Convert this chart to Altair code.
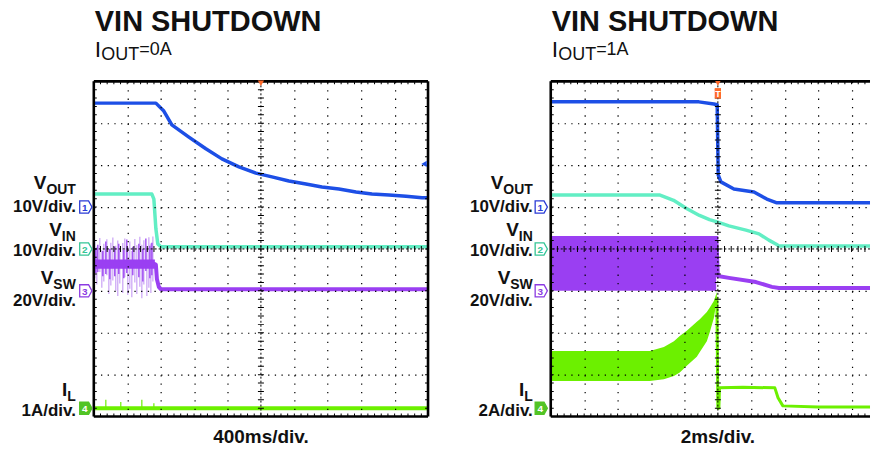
import altair as alt
import pandas as pd

FONT = "Liberation Sans"

# ---------------- channel setup (ground markers in divisions) ----------------
CH_OFFSET = [1.0, 0.0, -1.0, -3.8]
CH_NUM = ["1", "2", "3", "4"]
CH_MAIN = ["V", "V", "V", "I"]
CH_SUB = ["OUT", "IN", "SW", "L"]
UNITS_L = ["10V/div.", "10V/div.", "20V/div.", "1A/div."]
UNITS_R = ["10V/div.", "10V/div.", "20V/div.", "2A/div."]
VDIV_L = [10.0, 10.0, 20.0, 1.0]
VDIV_R = [10.0, 10.0, 20.0, 2.0]
# label baselines (divisions) for name and unit text
LBL_NAME_Y = [1.43, 0.31, -0.835, -3.51]
LBL_UNIT_Y = [0.883, -0.167, -1.36, -3.986]

# ---------------- left capture: 400 ms/div, IOUT = 0 A ----------------
L_TDIV = 400.0
L_VOUT_T = [-2000, -1257, -1162, -1066, -862, -659, -467, -263, -60, 132, 335, 539, 731, 934, 1138, 1329, 1533, 1737, 1928, 2000]
L_VOUT_V = [24.8, 24.8, 22.9, 19.6, 16.7, 13.9, 11.5, 9.6, 8.1, 7.2, 6.2, 5.5, 4.8, 4.3, 3.6, 3.1, 2.9, 2.6, 2.2, 2.2]
L_VIN_T = [-2000, -1305, -1281, -1257, -1234, -1198, 2000]
L_VIN_V = [13.1, 13.1, 11.9, 4.8, 1.2, 0.5, 0.5]
L_VSW_T = [-2000, -1269, -1257, -1245, -1222, -1198, 2000]
L_VSW_V = [12.8, 12.8, 12.4, 5.7, 1.9, 0.8, 0.8]
L_VSWB_T = [-2000, -1269]
L_VSWB_HI = [15.0, 15.0]
L_VSWB_LO = [10.6, 10.6]
# switching bursts before shutdown (light = sparse excursions, dark = dense ones)
L_SPK_T = [-1988, -1964, -1928, -1904, -1880, -1844, -1820, -1796, -1772, -1737, -1713, -1689, -1653,
           -1629, -1593, -1569, -1545, -1509, -1485, -1449, -1425, -1401, -1365, -1341, -1317, -1293]
L_SPK_HI = [23.8, 21.0, 25.2, 19.5, 22.5, 24.6, 20.5, 23.0, 25.5, 21.5, 24.0, 19.8, 22.8,
            25.0, 20.8, 23.5, 19.0, 24.8, 21.8, 25.8, 22.0, 24.2, 20.2, 25.6, 22.6, 26.0]
L_SPK_LO = [6.0, 3.0, 9.0, 1.5, 4.5, 7.5, -1.5, 2.5, 5.0, 0.0, -2.5, 3.5, -1.0,
            6.5, -2.0, 1.0, -3.0, 4.0, -1.5, 2.0, -3.5, 3.0, -2.5, 1.5, -1.0, 4.5]
L_DSPK_T = [-1976, -1952, -1892, -1856, -1808, -1749, -1701, -1641, -1605, -1533, -1461, -1413, -1377, -1329, -1305]
L_DSPK_HI = [20.5, 22.0, 19.0, 23.5, 20.0, 21.0, 22.5, 19.5, 24.5, 21.0, 22.5, 20.0, 25.0, 21.5, 23.0]
L_DSPK_LO = [8.5, 9.0, 7.0, 8.0, 5.5, 7.0, 8.0, 6.0, 8.5, 7.5, 6.5, 4.5, 9.5, 6.0, 7.5]
L_IL_T = [-2000, 2000]
L_IL_A = [0.0, 0.0]
L_ILSPK_T = [-1856, -1677, -1425, -1281]
L_ILSPK_HI = [0.2, 0.15, 0.2, 0.12]
L_TRIG_LEVEL = 10.3  # V on ch1

# ---------------- right capture: 2 ms/div, IOUT = 1 A ----------------
R_TDIV = 2.0
R_VOUT_T = [-10, -1.14, -0.24, -0.04, 0.02, 0.18, 0.96, 2.16, 2.93, 3.53, 10]
R_VOUT_V = [25.1, 25.1, 24.6, 24.4, 7.7, 6.0, 4.3, 3.6, 1.9, 1.0, 1.0]
R_VIN_T = [-10, -3.5, -2.65, -1.9, -1.1, -0.5, 0.0, 0.66, 1.68, 2.46, 3.05, 3.47, 3.65, 10]
R_VIN_V = [12.9, 12.9, 11.6, 9.7, 8.0, 7.0, 6.4, 5.5, 4.5, 3.6, 2.1, 1.2, 0.7, 0.7]
R_VSWB_T = [-10, -0.1]
R_VSWB_HI = [26.2, 26.2]
R_VSWB_LO = [0.0, 0.0]
R_VSW_T = [-0.1, 0.0, 0.66, 2.28, 3.23, 3.65, 10]
R_VSW_V = [26.2, 7.1, 6.2, 4.2, 1.9, 1.4, 1.4]
R_ILB_T = [-10, -4.07, -3.23, -2.63, -2.28, -1.86, -1.26, -1.08, -0.66, -0.48, -0.24, -0.06]
R_ILB_HI = [2.73, 2.73, 2.92, 3.2, 3.45, 3.7, 4.12, 4.25, 4.59, 4.8, 5.12, 5.55]
R_ILB_LO = [1.30, 1.30, 1.38, 1.54, 1.7, 2.02, 2.45, 2.68, 3.2, 3.64, 4.3, 5.2]
R_IL_T = [-0.06, 0.0, 0.06, 0.1, 1.5, 3.41, 3.6, 3.89, 6.0, 10]
R_IL_A = [5.3, 0.0, 0.0, 0.97, 1.0, 0.97, 0.5, 0.11, 0.06, 0.06]

C_VOUT = "#1d4fe6"
C_VIN = "#62eec4"
C_VSW = "#9a3ff2"
C_VSW_LIGHT = "#c9a2f5"
C_IL = "#6cf000"
C_TRIG = "#ff6a2a"
MK_STROKE = ["#2a3bd6", "#34c596", "#8b3ae2", "#52c425"]
MK_FILL = ["#ffffff", "#ffffff", "#ffffff", "#52c425"]
MK_TEXT = ["#2a3bd6", "#34c596", "#8b3ae2", "#ffffff"]

DIV_PX = 33.5
H = 336
# Arial/Liberation Sans Bold advance widths (em) for subscript layout
ADV = {"O": 0.778, "U": 0.722, "T": 0.611, "I": 0.278, "N": 0.722, "S": 0.667, "W": 0.944, "L": 0.611}


def make_enc(xmax):
    def enc_x(field="x"):
        return alt.X(f"{field}:Q", scale=alt.Scale(domain=[-5, xmax], nice=False, zero=False),
                     axis=alt.Axis(values=[-4, -3, -2, -1, 1, 2, 3, 4], labels=False,
                                   ticks=False, domain=False, grid=True, gridColor="#000",
                                   gridWidth=1.2, gridDash=[1.3, 7.1], title=None, zindex=1,
                                   minExtent=0, maxExtent=0))

    def enc_y(field="y"):
        return alt.Y(f"{field}:Q", scale=alt.Scale(domain=[-4, 4], nice=False, zero=False),
                     axis=alt.Axis(values=[-3, -2, -1, 1, 2, 3], labels=False, ticks=False,
                                   domain=False, grid=True, gridColor="#000", gridWidth=1.2,
                                   gridDash=[1.3, 5.4], title=None, zindex=1,
                                   minExtent=86, maxExtent=86))
    return enc_x, enc_y


def build_panel(xmax, traces_spec, units, load, time_label, marker_off, trig_kind,
                trig_level=None, right_border=True):
    enc_x, enc_y = make_enc(xmax)

    def trace(t, v, tdiv, vdiv, off, color, width):
        df = pd.DataFrame({"x": [a / tdiv for a in t], "y": [b / vdiv + off for b in v]})
        return alt.Chart(df).mark_line(clip=True, color=color, strokeWidth=width,
                                       strokeJoin="round").encode(x=enc_x(), y=enc_y())

    def band(t, hi, lo, tdiv, vdiv, off, color):
        df = pd.DataFrame({"x": [a / tdiv for a in t], "y": [b / vdiv + off for b in hi],
                           "y2": [b / vdiv + off for b in lo]})
        return alt.Chart(df).mark_area(clip=True, color=color, opacity=1).encode(
            x=enc_x(), y=enc_y(), y2=alt.Y2("y2:Q"))

    def spikes(t, hi, lo, tdiv, vdiv, off, color, width=1):
        df = pd.DataFrame({"x": [a / tdiv for a in t], "y": [b / vdiv + off for b in hi],
                           "y2": [b / vdiv + off for b in lo]})
        return alt.Chart(df).mark_rule(clip=True, color=color, strokeWidth=width).encode(
            x=enc_x(), y=enc_y(), y2=alt.Y2("y2:Q"))

    def text(x, y, s, size, weight="bold", align="left", dx=0, dy=0, color="#111"):
        df = pd.DataFrame({"x": [x], "y": [y], "t": [s]})
        return alt.Chart(df).mark_text(font=FONT, fontSize=size, fontWeight=weight, align=align,
                                       baseline="alphabetic", dx=dx, dy=dy, color=color).encode(
            x=enc_x(), y=enc_y(), text="t:N")

    layers = []
    for kind, args in traces_spec:
        if kind == "line":
            layers.append(trace(*args))
        elif kind == "band":
            layers.append(band(*args))
        else:
            layers.append(spikes(*args))

    # graticule: dashed centre cross, minor ticks on centre lines and edges
    xf = [i / 5 for i in range(-25, 26)]
    yf = [i / 5 for i in range(-20, 21)]
    layers.append(alt.Chart(pd.DataFrame({"x": [0.0]})).mark_rule(
        color="#000", strokeWidth=1, strokeDash=[2, 2]).encode(x=enc_x()))
    layers.append(alt.Chart(pd.DataFrame({"y": [0.0]})).mark_rule(
        color="#000", strokeWidth=1, strokeDash=[2, 2], clip=True).encode(y=enc_y()))
    tick_sets = [
        (xf, [0.0] * len(xf), "vertical"),
        ([0.0] * len(yf), yf, "horizontal"),
        (xf + xf, [4.0] * len(xf) + [-4.0] * len(xf), "vertical"),
        ([-5.0] * len(yf) + [5.0] * len(yf), yf + yf, "horizontal"),
    ]
    for tx, ty, orient in tick_sets:
        layers.append(alt.Chart(pd.DataFrame({"x": tx, "y": ty})).mark_tick(
            orient=orient, size=6, thickness=1, color="#000", opacity=1, clip=True).encode(
            x=enc_x(), y=enc_y()))
    # frame
    fx = [-5.0, 5.0] if right_border else [-5.0]
    layers.append(alt.Chart(pd.DataFrame({"x": fx})).mark_rule(
        color="#000", strokeWidth=2.6).encode(x=enc_x()))
    layers.append(alt.Chart(pd.DataFrame({"y": [4.0, -4.0]})).mark_rule(
        color="#000", strokeWidth=2.6).encode(y=enc_y()))

    # channel ground markers
    mdf = pd.DataFrame({"x": [-5.0] * 4, "y": CH_OFFSET, "n": CH_NUM,
                        "s": MK_STROKE, "f": MK_FILL, "c": MK_TEXT})
    layers.append(alt.Chart(mdf).mark_point(
        shape="M-1,-1 L0.45,-1 L1,0 L0.45,1 L-1,1 Z", size=150, filled=True, strokeWidth=1.3,
        xOffset=marker_off, opacity=1).encode(
        x=enc_x(), y=enc_y(), fill=alt.Fill("f:N", scale=None), stroke=alt.Stroke("s:N", scale=None)))
    layers.append(alt.Chart(mdf).mark_text(
        font=FONT, fontSize=10, fontWeight="bold", baseline="middle", align="center",
        dx=marker_off - 1, dy=1).encode(
        x=enc_x(), y=enc_y(), text="n:N", color=alt.Color("c:N", scale=None)))

    # trigger markers
    tdf = pd.DataFrame({"x": [0.0], "y": [4.0]})
    if trig_kind == "arrow":
        layers.append(alt.Chart(tdf).mark_point(
            shape="triangle-down", size=40, filled=True, color=C_TRIG, yOffset=2, opacity=1).encode(
            x=enc_x(), y=enc_y()))
    else:
        layers.append(alt.Chart(tdf).mark_point(
            shape="M-0.6,-1 L0.6,-1 L0.6,1 L-0.6,1 Z", size=110, filled=True, color=C_TRIG,
            yOffset=12, opacity=1).encode(x=enc_x(), y=enc_y()))
        layers.append(alt.Chart(tdf).mark_point(
            shape="triangle-down", size=30, filled=True, color=C_TRIG, yOffset=2, opacity=1).encode(
            x=enc_x(), y=enc_y()))
        layers.append(text(0, 4, "T", 9, color="#ffffff", align="center", dy=16))
    if trig_level is not None:
        layers.append(alt.Chart(pd.DataFrame({"x": [5.0], "y": [trig_level]})).mark_point(
            shape="triangle-left", size=40, filled=True, color=C_VOUT, xOffset=-4, opacity=1).encode(
            x=enc_x(), y=enc_y()))

    # channel labels with subscripts
    for main, sub, unit, yn, yu in zip(CH_MAIN, CH_SUB, units, LBL_NAME_Y, LBL_UNIT_Y):
        subw = sum(ADV[c] for c in sub) * 14
        layers.append(text(-5, yn, sub, 14, align="right", dx=-18, dy=5))
        layers.append(text(-5, yn, main, 19, align="right", dx=-18 - subw))
        layers.append(text(-5, yu, unit, 17, align="right", dx=-18))

    # headings
    layers += [
        text(-5, 4, "VIN SHUTDOWN", 29, dx=1, dy=-50),
        text(-5, 4, "I", 23, weight="normal", dx=1, dy=-24),
        text(-5, 4, "OUT", 18, weight="normal", dx=7.5, dy=-21),
        text(-5, 4, "=" + load, 18, weight="normal", dx=45.5, dy=-26),
        text(0, -4, time_label, 19, align="center", dy=26),
    ]
    width = round((xmax + 5) * DIV_PX)
    return alt.layer(*layers).properties(width=width, height=H)


o = CH_OFFSET
left_spec = [
    ("line", (L_IL_T, L_IL_A, L_TDIV, VDIV_L[3], o[3], C_IL, 4)),
    ("rule", (L_ILSPK_T, L_ILSPK_HI, [0.0] * len(L_ILSPK_T), L_TDIV, VDIV_L[3], o[3], C_IL, 1.2)),
    ("rule", (L_SPK_T, L_SPK_HI, L_SPK_LO, L_TDIV, VDIV_L[2], o[2], C_VSW_LIGHT, 1.2)),
    ("band", (L_VSWB_T, L_VSWB_HI, L_VSWB_LO, L_TDIV, VDIV_L[2], o[2], C_VSW)),
    ("rule", (L_DSPK_T, L_DSPK_HI, L_DSPK_LO, L_TDIV, VDIV_L[2], o[2], C_VSW, 1.3)),
    ("line", (L_VSW_T, L_VSW_V, L_TDIV, VDIV_L[2], o[2], C_VSW, 4)),
    ("line", (L_VIN_T, L_VIN_V, L_TDIV, VDIV_L[1], o[1], C_VIN, 3.5)),
    ("line", (L_VOUT_T, L_VOUT_V, L_TDIV, VDIV_L[0], o[0], C_VOUT, 3.5)),
]
right_spec = [
    ("band", (R_ILB_T, R_ILB_HI, R_ILB_LO, R_TDIV, VDIV_R[3], o[3], C_IL)),
    ("line", (R_IL_T, R_IL_A, R_TDIV, VDIV_R[3], o[3], C_IL, 3)),
    ("band", (R_VSWB_T, R_VSWB_HI, R_VSWB_LO, R_TDIV, VDIV_R[2], o[2], C_VSW)),
    ("line", (R_VSW_T, R_VSW_V, R_TDIV, VDIV_R[2], o[2], C_VSW, 4)),
    ("line", (R_VIN_T, R_VIN_V, R_TDIV, VDIV_R[1], o[1], C_VIN, 3.5)),
    ("line", (R_VOUT_T, R_VOUT_V, R_TDIV, VDIV_R[0], o[0], C_VOUT, 3.5)),
]

left = build_panel(5.0, left_spec, UNITS_L, "0A", "400ms/div.", -8, "arrow",
                   trig_level=L_TRIG_LEVEL / VDIV_L[0] + o[0])
# right capture runs off the page edge, just like the reference
right = build_panel(4.552, right_spec, UNITS_R, "1A", "2ms/div.", -9.5, "box", right_border=False)

chart = alt.hconcat(left, right, spacing=123, bounds="flush").configure_view(
    stroke=None).properties(padding=0, background="white")

chart.save("out.html", embed_options={"renderer": "svg", "actions": False})
